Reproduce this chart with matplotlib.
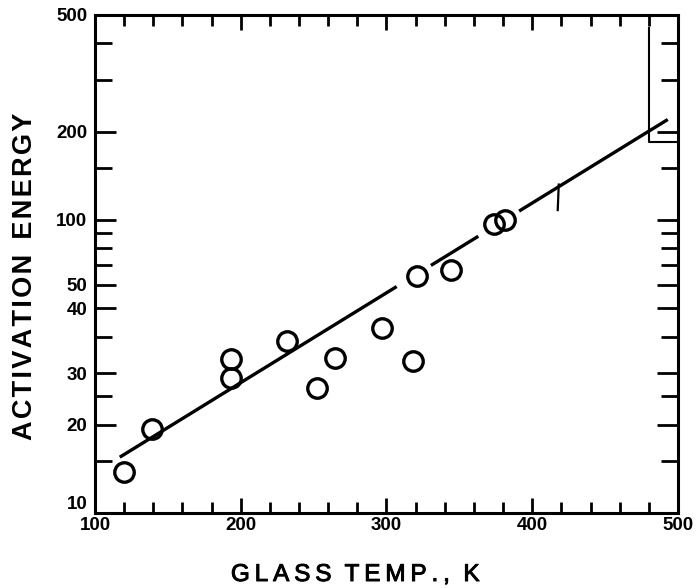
import numpy as np
import matplotlib
matplotlib.use("Agg")
import matplotlib.pyplot as plt
import matplotlib.patheffects as pe
from matplotlib.ticker import FixedLocator, NullFormatter

plt.rcParams['font.family'] = ['Liberation Sans', 'DejaVu Sans']

# measured glass temperatures (K) and activation energies
glass_temp = [120, 139, 193, 193, 232, 252, 265, 297, 318, 321, 344, 374, 381]
act_energy = [13.8, 19.4, 33.5, 28.9, 38.5, 26.7, 33.8, 42.7, 33.0, 64.1, 67.6, 96.9, 100.0]

# straight-line fit (log scale), drawn in pieces with gaps
fit_x = [117, 493]
fit_y = [15.5, 220]
fit_pieces = [(117, 307), (330.5, 363), (391, 493)]

# tick positions and printed labels
x_major = [100, 200, 300, 400, 500]
x_minor = list(range(120, 500, 20))
y_major = [10, 20, 30, 50, 60, 100, 200, 500]
y_major_labels = ["10", "20", "30", "40", "50", "100", "200", "500"]
y_minor = [15, 25, 40, 70, 80, 90, 150, 300, 400]


def fit_line(x):
    lx0, lx1 = fit_x
    ly0, ly1 = np.log10(fit_y)
    return 10 ** (ly0 + (np.asarray(x) - lx0) * (ly1 - ly0) / (lx1 - lx0))


def spaced(text, gap):
    # widen letter spacing by putting a narrow space between characters
    return "  ".join(gap.join(word) for word in text.split(" "))


fig = plt.figure(figsize=(6.98, 5.88), dpi=100)
ax = fig.add_axes([0.1361, 0.1276, 0.8352, 0.8469])
ax.set_yscale("log")
ax.set_xlim(100, 500)
ax.set_ylim(10, 500)

for a, b in fit_pieces:
    xs = np.array([a, b])
    ax.plot(xs, fit_line(xs), color="black", lw=2.4, solid_capstyle="butt")

# small cross mark on the fit line
ax.plot([417.5, 418.2], [108, 132], color="black", lw=1.6)

# bracket near the upper right corner
ax.plot([480, 480, 500], [450, 184, 184], color="black", lw=1.5)

ax.plot(glass_temp, act_energy, "o", ms=14, mfc="none", mec="black", mew=2.4)

ax.xaxis.set_major_locator(FixedLocator(x_major))
ax.xaxis.set_minor_locator(FixedLocator(x_minor))
ax.yaxis.set_major_locator(FixedLocator(y_major))
ax.yaxis.set_minor_locator(FixedLocator(y_minor))
ax.set_yticklabels(y_major_labels)
ax.yaxis.set_minor_formatter(NullFormatter())

ax.tick_params(which="both", direction="in", top=True, right=True,
               width=2, labelsize=13.5)
ax.tick_params(axis="x", which="major", length=11, pad=3)
ax.tick_params(axis="x", which="minor", length=8)
ax.tick_params(axis="y", which="major", length=15, pad=5.5)
ax.tick_params(axis="y", which="minor", length=12)
for lab in ax.get_xticklabels() + ax.get_yticklabels():
    lab.set_fontweight("bold")
# the "10" sits just above the corner
ax.get_yticklabels()[0].set_va("bottom")

for sp in ax.spines.values():
    sp.set_linewidth(2.2)

fig.text(0.5086, 0.0221, spaced("GLASS TEMP., K", "\u2009"), fontsize=17.5,
         ha="center", va="center",
         path_effects=[pe.withStroke(linewidth=0.7, foreground="black")])
fig.text(0.0358, 0.5306, spaced("ACTIVATION ENERGY", "\u200a"), fontsize=19.5,
         fontweight="bold", rotation=90, ha="center", va="center")

fig.savefig("out.png", dpi=100)
